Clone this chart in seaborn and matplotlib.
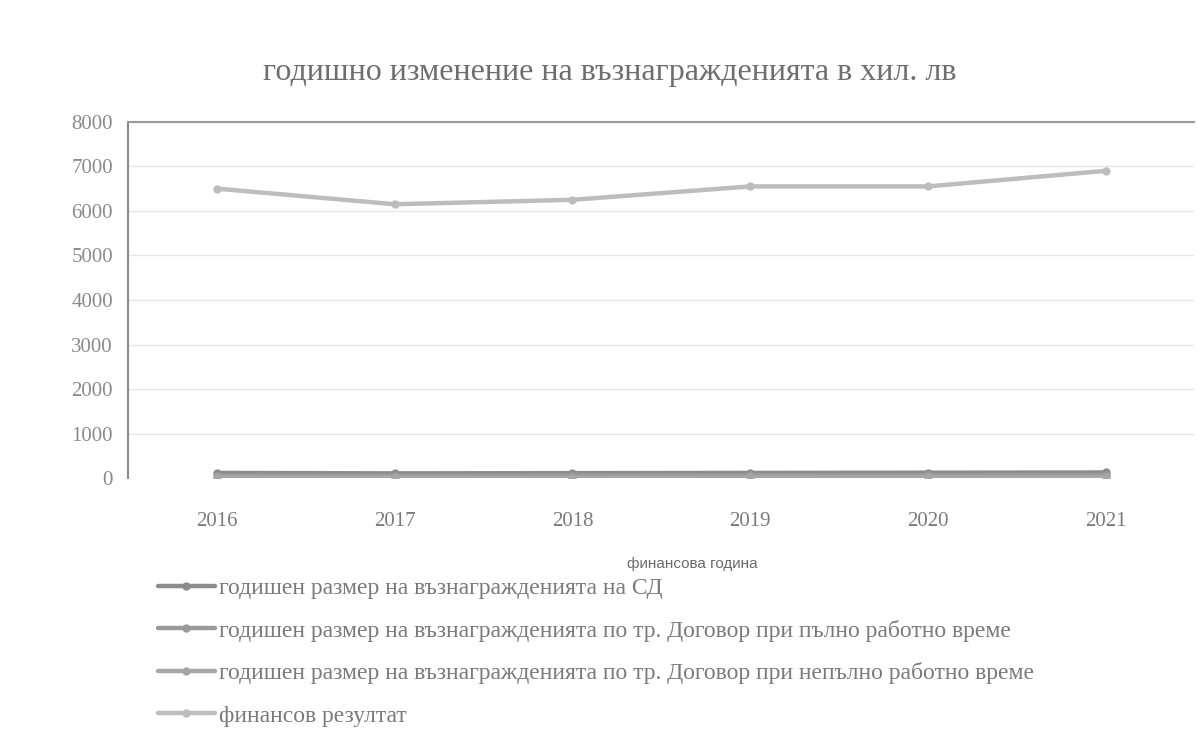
import matplotlib
matplotlib.use("Agg")
import matplotlib.pyplot as plt
import seaborn as sns
import pandas as pd

years = ["2016", "2017", "2018", "2019", "2020", "2021"]
series_names = [
    "годишен размер на възнагражденията на СД",
    "годишен размер на възнагражденията по тр. Договор при пълно работно време",
    "годишен размер на възнагражденията по тр. Договор при непълно работно време",
    "финансов резултат",
]
sd_values = [120, 110, 115, 120, 125, 130]
full_time_values = [60, 55, 60, 65, 70, 75]
part_time_values = [20, 20, 15, 20, 25, 25]
fin_result_values = [6500, 6150, 6250, 6550, 6550, 6900]
y_ticks = [0, 1000, 2000, 3000, 4000, 5000, 6000, 7000, 8000]

title = "годишно изменение на възнагражденията в хил. лв"
x_label = "финансова година"

rows = []
for name, vals in zip(series_names, [sd_values, full_time_values, part_time_values, fin_result_values]):
    for i, (y, v) in enumerate(zip(years, vals)):
        rows.append({"year": y, "pos": i, "value": v, "series": name})
df = pd.DataFrame(rows)

sns.set_theme(style="white")
plt.rcParams["font.family"] = ["Liberation Serif", "DejaVu Serif"]

fig = plt.figure(figsize=(11.98, 7.52), dpi=100)
ax = fig.add_axes([0.107, 0.364, 0.89, 0.474])

palette = ["#8c8c8c", "#9a9a9a", "#a6a6a6", "#bdbdbd"]
sns.lineplot(data=df, x="pos", y="value", hue="series", hue_order=series_names,
             palette=palette, marker="o", markersize=6, linewidth=3.2,
             markeredgewidth=0, ax=ax, legend=True)

ax.set_xlim(-0.5, 5.5)
ax.set_ylim(0, 8000)
ax.set_yticks(y_ticks)
ax.set_yticklabels([str(t) for t in y_ticks], color="#8a8a8a", fontsize=15)
ax.set_xticks(range(len(years)))
ax.set_xticklabels(years, color="#7a7a7a", fontsize=15)
ax.tick_params(axis="x", pad=24, length=0)
ax.tick_params(axis="y", pad=11, length=0)
ax.yaxis.grid(True, color="#e6e6e6", linewidth=1)
ax.set_axisbelow(True)

for s in ["right", "bottom"]:
    ax.spines[s].set_visible(False)
ax.spines["left"].set_color("#8a8a8a")
ax.spines["left"].set_linewidth(1.5)
ax.spines["top"].set_color("#9a9a9a")
ax.spines["top"].set_linewidth(1.5)

ax.set_xlabel(x_label, family=["Liberation Sans", "DejaVu Sans"], fontsize=11,
              color="#6a6a6a")
ax.xaxis.set_label_coords(0.5295, -0.222)
ax.set_ylabel("")

fig.text(0.509, 0.904, title, ha="center", va="center", fontsize=23, color="#6e6e6e")

handles, labels = ax.get_legend_handles_labels()
ax.legend(handles, labels, loc="upper left", bbox_to_anchor=(0.028, -0.278),
          frameon=False, fontsize=17, labelcolor="#7a7a7a", handlelength=2.4,
          handletextpad=0.2, labelspacing=0.88, borderaxespad=0, borderpad=0)

fig.savefig("out.png", dpi=100, facecolor="white")
